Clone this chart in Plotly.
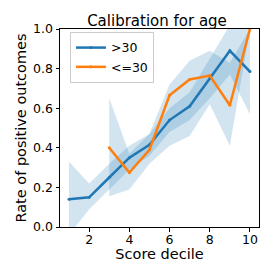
import plotly.graph_objects as go

deciles = [1, 2, 3, 4, 5, 6, 7, 8, 9, 10]
over30 = [0.14, 0.15, 0.25, 0.35, 0.415, 0.54, 0.61, 0.75, 0.89, 0.785]
over30_lo = [-0.04, 0.09, 0.19, 0.29, 0.36, 0.48, 0.54, 0.65, 0.77, 0.57]
over30_hi = [0.33, 0.22, 0.32, 0.41, 0.47, 0.60, 0.68, 0.85, 1.02, 1.02]

deciles_young = [3, 4, 5, 6, 7, 8, 9, 10]
under30 = [0.40, 0.275, 0.39, 0.665, 0.745, 0.765, 0.615, 1.0]
under30_lo = [0.155, 0.19, 0.32, 0.41, 0.46, 0.62, 0.41, 1.0]
under30_hi = [0.65, 0.37, 0.47, 0.72, 0.84, 0.89, 0.83, 1.0]

blue = "#1f77b4"
orange = "#ff7f0e"
band = "rgba(31,119,180,0.2)"
font = "DejaVu Sans"

fig = go.Figure()
fig.add_trace(go.Scatter(x=deciles, y=over30_lo, mode="lines", line=dict(width=0),
                         showlegend=False, hoverinfo="skip"))
fig.add_trace(go.Scatter(x=deciles, y=over30_hi, mode="lines", line=dict(width=0),
                         fill="tonexty", fillcolor=band, showlegend=False, hoverinfo="skip"))
fig.add_trace(go.Scatter(x=deciles_young, y=under30_lo, mode="lines", line=dict(width=0),
                         showlegend=False, hoverinfo="skip"))
fig.add_trace(go.Scatter(x=deciles_young, y=under30_hi, mode="lines", line=dict(width=0),
                         fill="tonexty", fillcolor=band, showlegend=False, hoverinfo="skip"))
fig.add_trace(go.Scatter(x=deciles, y=over30, mode="lines+markers", name=">30",
                         line=dict(color=blue, width=2.5), marker=dict(size=3, color=blue)))
fig.add_trace(go.Scatter(x=deciles_young, y=under30, mode="lines+markers", name="<=30",
                         line=dict(color=orange, width=2.5), marker=dict(size=3, color=orange)))

axis_common = dict(showline=True, linecolor="black", linewidth=1, mirror=True,
                   ticks="outside", ticklen=3.5, tickcolor="black", tickwidth=1,
                   showgrid=False, zeroline=False,
                   tickfont=dict(family=font, size=12.5, color="black"))

# the page body adds an 8px offset, so the figure is 267px with margins shifted accordingly
fig.update_layout(
    width=267, height=267,
    margin=dict(l=47, r=16, t=21, b=48),
    paper_bgcolor="white", plot_bgcolor="white",
    font=dict(family=font, color="black"),
    title=dict(text="Calibration for age", x=0.558, xanchor="center", y=0.972, yanchor="top",
               font=dict(family=font, size=15, color="black")),
    xaxis=dict(range=[0.55, 10.45], tickvals=[2, 4, 6, 8, 10], ticklabelstandoff=-3,
               title=dict(text="Score decile", font=dict(family=font, size=14.5), standoff=0),
               **axis_common),
    yaxis=dict(range=[0, 1], tickvals=[0, 0.2, 0.4, 0.6, 0.8, 1.0], tickformat=".1f",
               title=dict(text="Rate of positive outcomes", font=dict(family=font, size=14.5), standoff=3),
               **axis_common),
    legend=dict(x=0.05, y=0.985, xanchor="left", yanchor="top", traceorder="normal",
                bgcolor="rgba(255,255,255,0.8)", bordercolor="#cccccc", borderwidth=1,
                font=dict(family=font, size=12.5), tracegroupgap=0, itemwidth=30),
    showlegend=True,
)

fig.write_html("out.html")
